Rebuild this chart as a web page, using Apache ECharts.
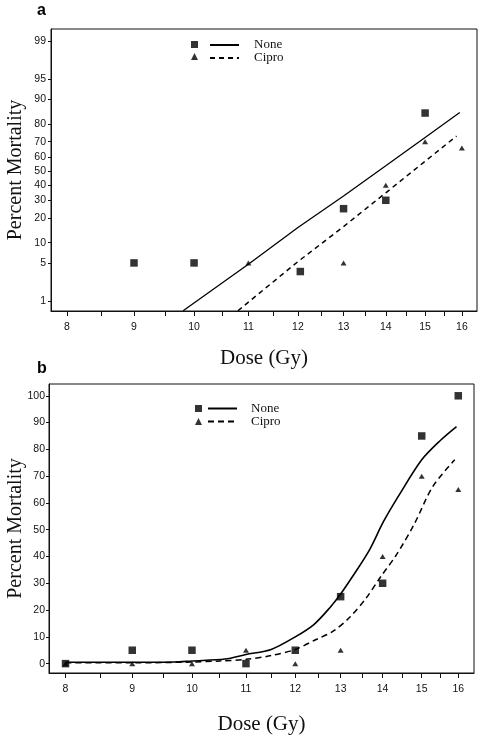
<!DOCTYPE html>
<html><head><meta charset="utf-8">
<script src="https://cdn.jsdelivr.net/npm/echarts@6/dist/echarts.min.js"></script>
<style>html,body{margin:0;padding:0;background:#fff}#c{width:489px;height:739px}</style>
</head><body><div id="c"></div>
<script>
// ---------- Panel a (probit y-axis, log dose axis) ----------
const aNoneDose = [9, 10, 12.05, 13, 14, 15];
const aNonePct = [5, 5, 3.6, 25, 30, 85];
const aCiproDose = [11, 13, 14, 15, 16];
const aCiproPct = [5, 5, 40, 70, 66];
const aNoneFitDose = [9.81, 11, 12, 13, 14, 15, 15.94];
const aNoneFitPct = [0.62, 4.75, 15.6, 32.7, 53.7, 72.5, 85.2];
const aCiproFitDose = [10.8, 12, 13, 14, 15, 15.85];
const aCiproFitPct = [0.62, 5.25, 16, 34.8, 56.9, 73.4];

// ---------- Panel b (linear y-axis, log dose axis) ----------
const bDose = [8, 9, 10, 11, 12, 13, 14, 15, 16];
const bNonePct = [0, 5, 5, 0, 5, 25, 30, 85, 100];
const bCiproPct = [0, 0, 0, 5, 0, 5, 40, 70, 65];
const bNoneFitDose = [8, 9, 9.7, 10, 10.6, 11, 11.5, 12, 12.4, 12.75, 13, 13.28, 13.68, 14.02, 14.42, 15, 15.5, 15.95];
const bNoneFitPct = [0.5, 0.5, 0.6, 1.0, 1.7, 3.4, 5.3, 10, 14.6, 20.8, 26, 32.6, 42.5, 53, 63.1, 76.1, 83.3, 88.5];
const bCiproFitDose = [8, 9, 10, 10.5, 11, 11.5, 12, 12.45, 12.83, 13.21, 13.6, 13.96, 14.34, 14.8, 15.3, 15.9];
const bCiproFitPct = [0.3, 0.3, 0.6, 1.0, 1.6, 3.0, 5.3, 9.0, 12.1, 17.3, 24.5, 32.6, 40.5, 52, 66.2, 76.1];

// ---------- Ticks ----------
const doseTicks = [8, 9, 10, 11, 12, 13, 14, 15, 16];
const doseMinorTicks = [8, 8.5, 9, 9.5, 10, 10.5, 11, 11.5, 12, 12.5, 13, 13.5, 14, 14.5, 15, 15.5, 16];
const probitTickPct = [1, 5, 10, 20, 30, 40, 50, 60, 70, 80, 90, 95, 99];
const linearTicks = [0, 10, 20, 30, 40, 50, 60, 70, 80, 90, 100];

// inverse normal CDF (probit transform of the y axis)
function probit(p) {
  const a=[-3.969683028665376e+01,2.209460984245205e+02,-2.759285104469687e+02,1.383577518672690e+02,-3.066479806614716e+01,2.506628277459239e+00];
  const b=[-5.447609879822406e+01,1.615858368580409e+02,-1.556989798598866e+02,6.680131188771972e+01,-1.328068155305150e+01];
  const c=[-7.784894002430293e-03,-3.223964580411365e-01,-2.400758277161838e+00,-2.549671254667860e+00,4.374664141464968e+00,2.938163982698783e+00];
  const d=[7.784695709041462e-03,3.224671290700398e-01,2.445134137142996e+00,3.754408661907416e+00];
  const pl=0.02425, ph=1-pl; let q, r;
  if (p < pl) { q=Math.sqrt(-2*Math.log(p)); return (((((c[0]*q+c[1])*q+c[2])*q+c[3])*q+c[4])*q+c[5])/((((d[0]*q+d[1])*q+d[2])*q+d[3])*q+1); }
  if (p <= ph) { q=p-0.5; r=q*q; return (((((a[0]*r+a[1])*r+a[2])*r+a[3])*r+a[4])*r+a[5])*q/(((((b[0]*r+b[1])*r+b[2])*r+b[3])*r+b[4])*r+1); }
  q=Math.sqrt(-2*Math.log(1-p)); return -(((((c[0]*q+c[1])*q+c[2])*q+c[3])*q+c[4])*q+c[5])/((((d[0]*q+d[1])*q+d[2])*q+d[3])*q+1);
}
const pz = pct => probit(pct / 100);
const pairsP = (xs, ps) => xs.map((x, i) => [x, pz(ps[i])]);
const pairs = (xs, ys) => xs.map((x, i) => [x, ys[i]]);
const probitTickVals = probitTickPct.map(pz);

const serif = 'Liberation Serif';
const sans = 'Liberation Sans';
const ink = '#111';

const legendNames = {aNone: 'None', aCipro: 'Cipro', bNone: 'None', bCipro: 'Cipro'};
const hiddenSymbol = {color: 'rgba(0,0,0,0)', borderColor: 'rgba(0,0,0,0)', borderWidth: 0, opacity: 0};

function xAxisFor(gridIndex, min, max, gap) {
  return {
    type: 'log', gridIndex, min, max, logBase: 10,
    name: 'Dose (Gy)', nameLocation: 'middle', nameGap: gap,
    nameTextStyle: {fontFamily: serif, fontSize: 21, color: ink},
    axisLine: {show: true, onZero: false, lineStyle: {color: ink, width: 1}},
    axisTick: {show: true, inside: false, length: 5, customValues: doseMinorTicks, lineStyle: {color: ink, width: 1}},
    minorTick: {show: false},
    axisLabel: {customValues: doseTicks, margin: 11, fontFamily: sans, fontSize: 10.5, color: ink,
      formatter: v => String(Math.round(v))},
    splitLine: {show: false}
  };
}

const option = {
  animation: false,
  backgroundColor: '#fff',
  title: [
    {text: 'a', left: 37, top: 3, padding: 0, textStyle: {fontFamily: sans, fontSize: 16, fontWeight: 'bold', color: '#000'}},
    {text: 'b', left: 37, top: 361, padding: 0, textStyle: {fontFamily: sans, fontSize: 16, fontWeight: 'bold', color: '#000'}}
  ],
  grid: [
    {left: 51, top: 29, width: 426, height: 282, show: true, borderColor: ink, borderWidth: 1, containLabel: false, outerBoundsMode: 'none'},
    {left: 49, top: 384, width: 425, height: 289, show: true, borderColor: ink, borderWidth: 1, containLabel: false, outerBoundsMode: 'none'}
  ],
  xAxis: [xAxisFor(0, 7.78, 16.43, 37), xAxisFor(1, 7.77, 16.45, 41)],
  yAxis: [
    {type: 'value', gridIndex: 0, min: -2.505, max: 2.54,
      name: 'Percent Mortality', nameLocation: 'middle', nameGap: 25, nameMoveOverlap: false,
      nameTextStyle: {fontFamily: serif, fontSize: 20, color: ink},
      axisLine: {show: true, onZero: false, lineStyle: {color: ink}},
      axisTick: {show: true, length: 3, customValues: probitTickVals, lineStyle: {color: ink}},
      axisLabel: {customValues: probitTickVals, margin: 5, fontFamily: sans, fontSize: 10.5, color: ink,
        formatter: v => { let best = 0; probitTickVals.forEach((t, i) => { if (Math.abs(t - v) < Math.abs(probitTickVals[best] - v)) best = i; }); return String(probitTickPct[best]); }},
      splitLine: {show: false}},
    {type: 'value', gridIndex: 1, min: -3.5, max: 104.4,
      name: 'Percent Mortality', nameLocation: 'middle', nameGap: 23, nameMoveOverlap: false,
      nameTextStyle: {fontFamily: serif, fontSize: 20, color: ink},
      axisLine: {show: true, onZero: false, lineStyle: {color: ink}},
      axisTick: {show: true, length: 3, customValues: linearTicks, lineStyle: {color: ink}},
      axisLabel: {customValues: linearTicks, margin: 4, fontFamily: sans, fontSize: 10.5, color: ink},
      splitLine: {show: false}}
  ],
  legend: [
    {left: 191, top: 38.5, padding: 0, orient: 'vertical', itemWidth: 7, itemHeight: 7, itemGap: 0, selectedMode: false,
      data: [{name: 'aNonePts', icon: 'rect'}, {name: 'aCiproPts', icon: 'triangle'}],
      formatter: () => ' ', textStyle: {fontSize: 12, lineHeight: 12}},
    {left: 209, top: 38.5, padding: 0, orient: 'vertical', itemWidth: 29, itemHeight: 10, itemGap: 0, selectedMode: false,
      data: ['aNone', 'aCipro'], formatter: n => legendNames[n], itemStyle: hiddenSymbol,
      textStyle: {fontFamily: serif, fontSize: 13, lineHeight: 12, color: ink, padding: [0, 0, 0, 10]}},
    {left: 195, top: 402, padding: 0, orient: 'vertical', itemWidth: 7, itemHeight: 7, itemGap: 0, selectedMode: false,
      data: [{name: 'bNonePts', icon: 'rect'}, {name: 'bCiproPts', icon: 'triangle'}],
      formatter: () => ' ', textStyle: {fontSize: 12, lineHeight: 13}},
    {left: 207, top: 402, padding: 0, orient: 'vertical', itemWidth: 29, itemHeight: 10, itemGap: 0, selectedMode: false,
      data: ['bNone', 'bCipro'], formatter: n => legendNames[n], itemStyle: hiddenSymbol,
      textStyle: {fontFamily: serif, fontSize: 13, lineHeight: 13, color: ink, padding: [0, 0, 0, 9]}}
  ],
  series: [
    {name: 'aNone', type: 'line', xAxisIndex: 0, yAxisIndex: 0, data: pairsP(aNoneFitDose, aNoneFitPct),
      showSymbol: false, symbol: 'none', color: '#000', lineStyle: {color: '#000', width: 1.3, type: 'solid'}},
    {name: 'aCipro', type: 'line', xAxisIndex: 0, yAxisIndex: 0, data: pairsP(aCiproFitDose, aCiproFitPct),
      showSymbol: false, symbol: 'none', color: '#000', lineStyle: {color: '#000', width: 1.5, type: [5, 4]}},
    {name: 'aNonePts', type: 'scatter', xAxisIndex: 0, yAxisIndex: 0, data: pairsP(aNoneDose, aNonePct),
      symbol: 'rect', symbolSize: 7.5, itemStyle: {color: '#000'}},
    {name: 'aCiproPts', type: 'scatter', xAxisIndex: 0, yAxisIndex: 0, data: pairsP(aCiproDose, aCiproPct),
      symbol: 'triangle', symbolSize: [6, 5], itemStyle: {color: '#000'}},
    {name: 'bNone', type: 'line', xAxisIndex: 1, yAxisIndex: 1, data: pairs(bNoneFitDose, bNoneFitPct), smooth: 0.3,
      showSymbol: false, symbol: 'none', color: '#000', lineStyle: {color: '#000', width: 1.6, type: 'solid'}},
    {name: 'bCipro', type: 'line', xAxisIndex: 1, yAxisIndex: 1, data: pairs(bCiproFitDose, bCiproFitPct), smooth: 0.3,
      showSymbol: false, symbol: 'none', color: '#000', lineStyle: {color: '#000', width: 1.5, type: [6, 4]}},
    {name: 'bNonePts', type: 'scatter', xAxisIndex: 1, yAxisIndex: 1, data: pairs(bDose, bNonePct),
      symbol: 'rect', symbolSize: 7.5, itemStyle: {color: '#000'}},
    {name: 'bCiproPts', type: 'scatter', xAxisIndex: 1, yAxisIndex: 1, data: pairs(bDose, bCiproPct),
      symbol: 'triangle', symbolSize: [6, 5], itemStyle: {color: '#000'}}
  ]
};
const chart = echarts.init(document.getElementById('c'), null, {renderer: 'canvas'});
chart.setOption(option);
</script>
</body></html>
